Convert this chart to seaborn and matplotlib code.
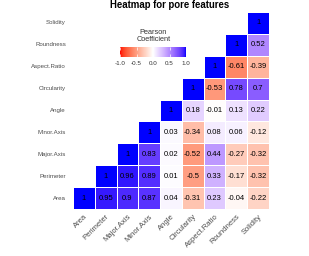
import numpy as np
import pandas as pd
import matplotlib
matplotlib.use("Agg")
import matplotlib.pyplot as plt
from matplotlib.colors import ListedColormap
import seaborn as sns

features = ["Area", "Perimeter", "Major.Axis", "Minor.Axis", "Angle",
            "Circularity", "Aspect.Ratio", "Roundness", "Solidity"]
# upper-triangle rows (from the diagonal to the right)
row_area = [1, 0.95, 0.9, 0.87, 0.04, -0.31, 0.23, -0.04, -0.22]
row_perimeter = [1, 0.96, 0.89, 0.01, -0.5, 0.33, -0.17, -0.32]
row_major = [1, 0.83, 0.02, -0.52, 0.44, -0.27, -0.32]
row_minor = [1, 0.03, -0.34, 0.08, 0.06, -0.12]
row_angle = [1, 0.18, -0.01, 0.13, 0.22]
row_circ = [1, -0.53, 0.78, 0.7]
row_aspect = [1, -0.61, -0.39]
row_round = [1, 0.52]
row_solid = [1]
rows = [row_area, row_perimeter, row_major, row_minor, row_angle,
        row_circ, row_aspect, row_round, row_solid]
legend_ticks = [-1.0, -0.5, 0.0, 0.5, 1.0]
legend_tick_labels = ["-1.0", "-0.5", "0.0", "0.5", "1.0"]

n = len(features)
M = np.full((n, n), np.nan)
for i, r in enumerate(rows):
    for k, v in enumerate(r):
        M[i, i + k] = v
        M[i + k, i] = v

# Lab-space gradient red - white - blue (like ggplot's gradient2)
def srgb_to_lab(rgb):
    rgb = np.asarray(rgb, float)
    lin = np.where(rgb <= 0.04045, rgb / 12.92, ((rgb + 0.055) / 1.055) ** 2.4)
    Mx = np.array([[0.4124, 0.3576, 0.1805],
                   [0.2126, 0.7152, 0.0722],
                   [0.0193, 0.1192, 0.9505]])
    xyz = Mx @ lin
    wp = np.array([0.95047, 1.0, 1.08883])
    t = xyz / wp
    f = np.where(t > (6 / 29) ** 3, np.cbrt(t), t / (3 * (6 / 29) ** 2) + 4 / 29)
    return np.array([116 * f[1] - 16, 500 * (f[0] - f[1]), 200 * (f[1] - f[2])])

def lab_to_srgb(lab):
    L, a, b = lab
    fy = (L + 16) / 116
    fx = fy + a / 500
    fz = fy - b / 200
    def finv(f):
        return np.where(f > 6 / 29, f ** 3, 3 * (6 / 29) ** 2 * (f - 4 / 29))
    wp = np.array([0.95047, 1.0, 1.08883])
    xyz = np.array([finv(fx), finv(fy), finv(fz)]) * wp
    Minv = np.array([[3.2406, -1.5372, -0.4986],
                     [-0.9689, 1.8758, 0.0415],
                     [0.0557, -0.2040, 1.0570]])
    lin = Minv @ xyz
    lin = np.clip(lin, 0, 1)
    rgb = np.where(lin <= 0.0031308, 12.92 * lin, 1.055 * lin ** (1 / 2.4) - 0.055)
    return np.clip(rgb, 0, 1)

lab_red = srgb_to_lab([1, 0, 0])
lab_white = srgb_to_lab([1, 1, 1])
lab_blue = srgb_to_lab([0, 0, 1])
cols = []
for t in np.linspace(-1, 1, 256):
    if t < 0:
        lab = lab_white + (lab_red - lab_white) * (-t)
    else:
        lab = lab_white + (lab_blue - lab_white) * t
    cols.append(lab_to_srgb(lab))
cmap = ListedColormap(cols)

plt.rcParams["font.family"] = ["Liberation Sans", "DejaVu Sans"]
plt.rcParams["axes.unicode_minus"] = False

df = pd.DataFrame(M, index=features, columns=features).iloc[::-1]
mask = np.zeros((n, n), bool)
for r in range(n):
    for c in range(n):
        if c < (n - 1 - r):
            mask[r, c] = True
annot = df.map(lambda v: f"{v:g}").values

fig = plt.figure(figsize=(3.09, 2.56), dpi=100)
ax = fig.add_axes([73 / 309, 1 - 209 / 256, 196 / 309, 197 / 256])
sns.heatmap(df, mask=mask, cmap=cmap, vmin=-1, vmax=1, annot=annot, fmt="",
            annot_kws={"color": "black", "fontsize": 5.5},
            linewidths=0.5, linecolor="white", cbar=False, square=False, ax=ax)
ax.set_xlabel("")
ax.set_ylabel("")
ax.tick_params(axis="both", length=0)
ax.tick_params(axis="y", pad=5, labelsize=4.4, labelcolor="#4D4D4D")
ax.tick_params(axis="x", pad=3, labelsize=5.5, labelcolor="#4D4D4D")
plt.setp(ax.get_yticklabels(), rotation=0, ha="right")
plt.setp(ax.get_xticklabels(), rotation=45, ha="right", rotation_mode="anchor")

fig.text(170 / 309, 1 - 8 / 256, "Heatmap for pore features", ha="center",
         va="baseline", fontsize=6.9, fontweight="bold", color="black")

cax = fig.add_axes([120 / 309, 1 - 57 / 256, 66 / 309, 10 / 256])
cb = fig.colorbar(ax.collections[0], cax=cax, orientation="horizontal")
cb.outline.set_visible(False)
cb.set_ticks(legend_ticks)
cb.set_ticklabels(legend_tick_labels)
cax.tick_params(axis="x", direction="in", length=2, width=0.5, color="white",
                labelsize=4.5, labelcolor="#333333", pad=3, top=True)
fig.text(153.5 / 309, 1 - 43 / 256, "Pearson\nCoefficient", ha="center",
         va="bottom", fontsize=5.3, color="#333333", linespacing=1.0)

fig.savefig("out.png", dpi=100)
